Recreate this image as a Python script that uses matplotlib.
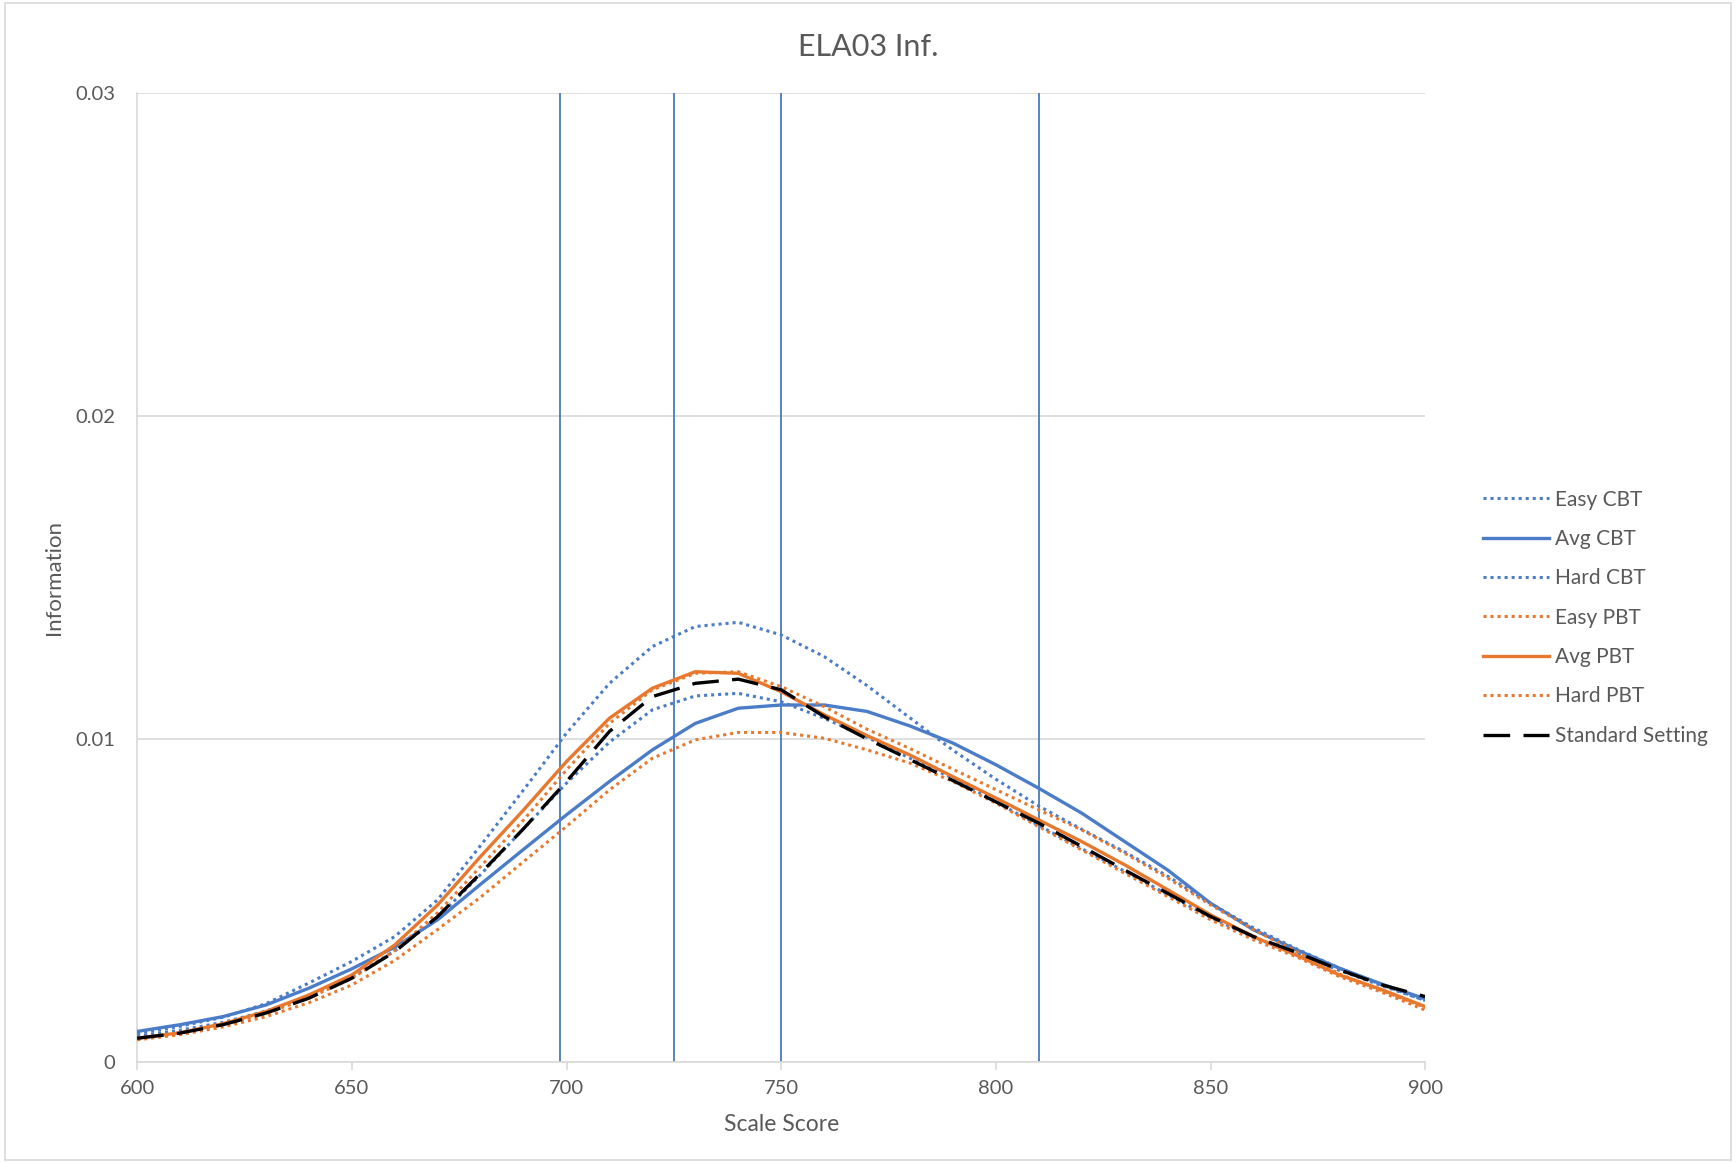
import matplotlib
matplotlib.use("Agg")
import matplotlib.pyplot as plt
from matplotlib.patches import Rectangle

# Scale score grid (every 10 points)
scores = list(range(600, 901, 10))

easy_cbt = [0.00088, 0.00110, 0.00138, 0.00180, 0.00244, 0.00311, 0.00388, 0.00502, 0.00670, 0.00842,
            0.01018, 0.01172, 0.01286, 0.01348, 0.01361, 0.01322, 0.01255, 0.01165, 0.01065, 0.00965,
            0.00875, 0.00792, 0.00720, 0.00650, 0.00575, 0.00490, 0.00415, 0.00350, 0.00290, 0.00238,
            0.00190]
avg_cbt = [0.00094, 0.00115, 0.00140, 0.00176, 0.00228, 0.00288, 0.00355, 0.00440, 0.00550, 0.00658,
           0.00765, 0.00868, 0.00966, 0.01048, 0.01095, 0.01105, 0.01105, 0.01085, 0.01040, 0.00987,
           0.00920, 0.00847, 0.00770, 0.00682, 0.00594, 0.00491, 0.00409, 0.00347, 0.00290, 0.00240,
           0.00195]
hard_cbt = [0.00080, 0.00098, 0.00122, 0.00157, 0.00203, 0.00262, 0.00343, 0.00447, 0.00580, 0.00722,
            0.00863, 0.00990, 0.01090, 0.01133, 0.01141, 0.01115, 0.01064, 0.01005, 0.00940, 0.00878,
            0.00805, 0.00732, 0.00660, 0.00590, 0.00518, 0.00447, 0.00385, 0.00336, 0.00283, 0.00235,
            0.00190]
easy_pbt = [0.00070, 0.00088, 0.00115, 0.00150, 0.00198, 0.00258, 0.00345, 0.00462, 0.00605, 0.00749,
            0.00904, 0.01048, 0.01152, 0.01203, 0.01208, 0.01162, 0.01100, 0.01030, 0.00970, 0.00906,
            0.00843, 0.00780, 0.00718, 0.00646, 0.00569, 0.00486, 0.00409, 0.00341, 0.00272, 0.00220,
            0.00168]
avg_pbt = [0.00073, 0.00090, 0.00118, 0.00156, 0.00207, 0.00269, 0.00362, 0.00486, 0.00636, 0.00780,
           0.00930, 0.01064, 0.01157, 0.01208, 0.01203, 0.01146, 0.01075, 0.01010, 0.00950, 0.00883,
           0.00817, 0.00749, 0.00682, 0.00610, 0.00533, 0.00455, 0.00388, 0.00330, 0.00269, 0.00223,
           0.00171]
hard_pbt = [0.00068, 0.00084, 0.00108, 0.00140, 0.00183, 0.00238, 0.00314, 0.00410, 0.00510, 0.00620,
            0.00729, 0.00842, 0.00940, 0.00997, 0.01020, 0.01020, 0.01002, 0.00966, 0.00925, 0.00868,
            0.00801, 0.00728, 0.00656, 0.00584, 0.00512, 0.00440, 0.00378, 0.00325, 0.00264, 0.00215,
            0.00160]
standard_setting = [0.00073, 0.00089, 0.00115, 0.00151, 0.00197, 0.00259, 0.00341, 0.00450, 0.00584, 0.00722,
                    0.00868, 0.01023, 0.01131, 0.01172, 0.01185, 0.01152, 0.01069, 0.01000, 0.00936, 0.00871,
                    0.00805, 0.00739, 0.00667, 0.00594, 0.00522, 0.00450, 0.00388, 0.00339, 0.00285, 0.00238,
                    0.00202]

# Cut scores shown as vertical reference lines
cut_scores = [698.5, 725, 750, 810]

x_ticks = [600, 650, 700, 750, 800, 850, 900]
y_ticks = [0, 0.01, 0.02, 0.03]
y_tick_labels = ["0", "0.01", "0.02", "0.03"]

BLUE = "#4A7CC7"
ORANGE = "#E8782E"
CUT = "#4A7BBA"
GRID = "#D9D9D9"
TEXT = "#595959"

plt.rcParams["font.family"] = ["Lato", "DejaVu Sans"]

fig = plt.figure(figsize=(17.36, 11.63), dpi=100)
ax = fig.add_axes([0.079, 0.087, 0.742, 0.833])

dot = (0, (1, 1.3))
ax.plot(scores, easy_cbt, color=BLUE, lw=2.2, ls=dot, label="Easy CBT", zorder=3)
ax.plot(scores, avg_cbt, color=BLUE, lw=2.4, ls="-", label="Avg CBT", zorder=3)
ax.plot(scores, hard_cbt, color=BLUE, lw=2.2, ls=dot, label="Hard CBT", zorder=3)
ax.plot(scores, easy_pbt, color=ORANGE, lw=2.2, ls=dot, label="Easy PBT", zorder=3)
ax.plot(scores, avg_pbt, color=ORANGE, lw=2.4, ls="-", label="Avg PBT", zorder=3)
ax.plot(scores, hard_pbt, color=ORANGE, lw=2.2, ls=dot, label="Hard PBT", zorder=3)
ax.plot(scores, standard_setting, color="black", lw=2.4, ls=(0, (8, 4)),
        label="Standard Setting", zorder=4)

ax.vlines(cut_scores, 0, 0.03, colors=CUT, lw=1.3, zorder=2)

ax.set_xlim(600, 900)
ax.set_ylim(0, 0.03)
ax.set_xticks(x_ticks)
ax.set_yticks(y_ticks)
ax.set_yticklabels(y_tick_labels)
ax.grid(axis="y", color=GRID, lw=1.2, zorder=0)
ax.set_axisbelow(True)

for side in ("top", "right"):
    ax.spines[side].set_visible(False)
ax.spines["left"].set_color(GRID)
ax.spines["bottom"].set_color(GRID)
ax.spines["left"].set_linewidth(1.2)
ax.spines["bottom"].set_linewidth(1.2)

ax.tick_params(axis="x", colors=GRID, length=6, width=1.2, labelcolor=TEXT,
               labelsize=14.5, pad=7)
ax.tick_params(axis="y", length=0, labelcolor=TEXT, labelsize=14.5, pad=16)

ax.set_xlabel("Scale Score", fontsize=16.5, color=TEXT, labelpad=12)
ax.set_ylabel("Information", fontsize=16, color=TEXT, labelpad=8)
fig.text(0.5, 0.960, "ELA03 Inf.", fontsize=22, color=TEXT, ha="center", va="center")

fig.legend(loc="upper left", bbox_to_anchor=(0.848, 0.588), frameon=False,
           fontsize=15, labelcolor=TEXT, handlelength=3.17, handletextpad=0.32,
           labelspacing=0.93, borderpad=0)

# Light chart-area border
fig.add_artist(Rectangle((0.003, 0.003), 0.994, 0.994, transform=fig.transFigure,
                         fill=False, edgecolor=GRID, lw=1.2))

fig.savefig("out.png", dpi=100, facecolor="white")
